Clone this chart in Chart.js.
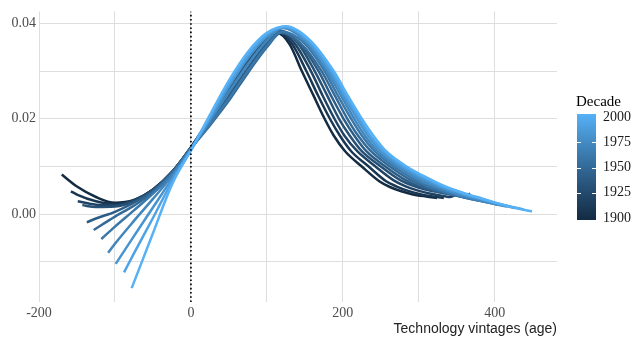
<!DOCTYPE html>
<html>
<head>
<meta charset="utf-8">
<script src="https://cdn.jsdelivr.net/npm/chart.js@4.4.1/dist/chart.umd.min.js"></script>
<style>
  html, body { margin: 0; padding: 0; background: #ffffff; }
  canvas { display: block; }
</style>
</head>
<body>
<canvas id="c" width="636" height="338"></canvas>
<script>
// Decades shown, one fitted curve each: [age, share]
const decades = [1900, 1910, 1920, 1930, 1940, 1950, 1960, 1970, 1980, 1990, 2000];

const d1900 = [[-170,.0083],[-150,.0058],[-125,.0036],[-100,.0024],[-75,.0030],[-50,.0052],[-25,.0088],[0,.0140],[25,.0200],[50,.0262],[75,.0322],[100,.0368],[113,.0380],[130,.0356],[146,.0300],[161,.0250],[176,.0200],[188,.0165],[203,.0132],[225,.0100],[249,.0068],[262,.0057],[277,.0048],[291,.0042],[310,.0037],[324,.0034]];
const d1910 = [[-158,.0048],[-150,.0041],[-125,.0027],[-100,.0021],[-75,.0029],[-50,.0051],[-25,.0088],[0,.0140],[25,.0200],[50,.0263],[75,.0323],[100,.0369],[114,.0382],[133,.0357],[152,.0300],[167,.0250],[183,.0200],[196,.0165],[211,.0132],[234,.0100],[257,.0069],[271,.0058],[286,.0049],[302,.0042],[320,.0037],[333,.0034]];
const d1920 = [[-149,.0027],[-125,.0020],[-100,.0019],[-75,.0029],[-50,.0051],[-25,.0088],[0,.0140],[25,.0198],[50,.0260],[75,.0320],[100,.0367],[115,.0384],[136,.0359],[158,.0300],[173,.0250],[189,.0200],[202,.0165],[219,.0132],[243,.0100],[267,.0071],[282,.0059],[298,.0050],[316,.0043],[336,.0037],[341,.0036],[347,.0039]];
const d1930 = [[-143,.0019],[-125,.0015],[-100,.0016],[-75,.0027],[-50,.0050],[-25,.0088],[0,.0139],[25,.0196],[50,.0256],[75,.0316],[100,.0364],[117,.0385],[140,.0360],[163,.0300],[179,.0250],[195,.0200],[209,.0165],[225,.0132],[250,.0100],[275,.0072],[292,.0060],[310,.0051],[330,.0045],[352,.0040],[362,.0039],[368,.0043]];
const d1940 = [[-137,-.0017],[-125,-.0009],[-100,.0005],[-75,.0024],[-50,.0049],[-25,.0087],[0,.0139],[25,.0192],[50,.0248],[75,.0306],[100,.0358],[118,.0383],[143,.0358],[168,.0300],[184,.0250],[201,.0200],[215,.0165],[231,.0132],[256,.0100],[281,.0073],[300,.0059],[320,.0049],[342,.0041],[362,.0035],[380,.0031]];
const d1950 = [[-128,-.0033],[-100,-.0005],[-75,.0018],[-50,.0046],[-25,.0086],[0,.0138],[25,.0186],[50,.0238],[75,.0296],[100,.0350],[119,.0380],[145,.0357],[172,.0300],[189,.0250],[206,.0200],[220,.0165],[237,.0132],[262,.0100],[288,.0073],[308,.0058],[330,.0047],[352,.0038],[372,.0031],[392,.0025]];
const d1960 = [[-118,-.0052],[-100,-.0026],[-75,.0008],[-50,.0043],[-25,.0084],[0,.0137],[25,.0188],[50,.0242],[75,.0300],[100,.0353],[120,.0383],[148,.0360],[176,.0300],[193,.0250],[211,.0200],[225,.0165],[242,.0132],[267,.0100],[293,.0074],[314,.0058],[336,.0046],[358,.0036],[380,.0028],[404,.0020]];
const d1970 = [[-109,-.0081],[-100,-.0062],[-75,-.0014],[-50,.0032],[-25,.0080],[0,.0136],[25,.0195],[50,.0256],[75,.0315],[100,.0364],[121,.0390],[150,.0363],[179,.0300],[197,.0250],[215,.0200],[229,.0165],[246,.0132],[272,.0100],[298,.0075],[320,.0059],[342,.0046],[365,.0035],[390,.0025],[416,.0016]];
const d1980 = [[-99,-.0104],[-75,-.0046],[-50,.0014],[-25,.0074],[0,.0135],[25,.0200],[50,.0267],[75,.0327],[100,.0372],[122,.0391],[152,.0364],[182,.0300],[200,.0250],[219,.0200],[233,.0165],[250,.0132],[276,.0100],[302,.0076],[325,.0059],[350,.0045],[375,.0034],[400,.0023],[427,.0013]];
const d1990 = [[-88,-.0122],[-75,-.0082],[-50,-.0008],[-25,.0068],[0,.0134],[25,.0204],[50,.0274],[75,.0334],[100,.0377],[124,.0393],[154,.0365],[185,.0300],[203,.0250],[222,.0200],[236,.0165],[254,.0132],[280,.0100],[306,.0077],[330,.0059],[355,.0045],[380,.0033],[408,.0021],[438,.0010]];
const d2000 = [[-78,-.0155],[-50,-.0040],[-25,.0062],[0,.0134],[25,.0208],[50,.0280],[75,.0340],[100,.0380],[125,.0394],[156,.0366],[188,.0300],[206,.0250],[225,.0200],[240,.0165],[257,.0132],[284,.0100],[310,.0077],[335,.0058],[360,.0044],[385,.0032],[410,.0020],[430,.0012],[449,.0006]];

// Axis ticks and labels
const xTicks = [-200, -100, 0, 100, 200, 300, 400];
const xLabelled = [-200, 0, 200, 400];
const yTicks = [-0.01, 0, 0.01, 0.02, 0.03, 0.04];
const yLabelled = [0, 0.02, 0.04];
const legendBreaks = [1900, 1925, 1950, 1975, 2000];
const refAge = 0;

const X_MIN = -200, X_MAX = 482;
const Y_MIN = -0.0184, Y_MAX = 0.0425;

// Continuous colour scale: dark navy -> light blue, interpolated in CIE Lab
const LOW = '#132B43', HIGH = '#56B1F7';
const WHITE = [0.95047, 1, 1.08883];
function hexToRgb(h) { return [1, 3, 5].map(i => parseInt(h.slice(i, i + 2), 16)); }
function toLin(c) { c /= 255; return c <= 0.04045 ? c / 12.92 : Math.pow((c + 0.055) / 1.055, 2.4); }
function fromLin(c) {
  const v = c <= 0.0031308 ? 12.92 * c : 1.055 * Math.pow(c, 1 / 2.4) - 0.055;
  return Math.round(Math.max(0, Math.min(1, v)) * 255);
}
function rgbToLab(rgb) {
  const [r, g, b] = rgb.map(toLin);
  const X = 0.4124564 * r + 0.3575761 * g + 0.1804375 * b;
  const Y = 0.2126729 * r + 0.7151522 * g + 0.0721750 * b;
  const Z = 0.0193339 * r + 0.1191920 * g + 0.9503041 * b;
  const f = t => t > 0.008856 ? Math.cbrt(t) : 7.787 * t + 16 / 116;
  const fx = f(X / WHITE[0]), fy = f(Y / WHITE[1]), fz = f(Z / WHITE[2]);
  return [116 * fy - 16, 500 * (fx - fy), 200 * (fy - fz)];
}
function labToRgb(lab) {
  const fy = (lab[0] + 16) / 116, fx = fy + lab[1] / 500, fz = fy - lab[2] / 200;
  const inv = t => (t * t * t > 0.008856) ? t * t * t : (t - 16 / 116) / 7.787;
  const X = inv(fx) * WHITE[0], Y = inv(fy) * WHITE[1], Z = inv(fz) * WHITE[2];
  const r = 3.2404542 * X - 1.5371385 * Y - 0.4985314 * Z;
  const g = -0.9692660 * X + 1.8760108 * Y + 0.0415560 * Z;
  const b = 0.0556434 * X - 0.2040259 * Y + 1.0572252 * Z;
  return [r, g, b].map(fromLin);
}
const labLow = rgbToLab(hexToRgb(LOW)), labHigh = rgbToLab(hexToRgb(HIGH));
function rampColour(t) {
  const lab = labLow.map((v, k) => v + (labHigh[k] - v) * t);
  const [r, g, b] = labToRgb(lab);
  return `rgb(${r},${g},${b})`;
}
const dMin = Math.min(...decades), dMax = Math.max(...decades);
const decadeColour = d => rampColour((d - dMin) / (dMax - dMin));

const curves = [d1900, d1910, d1920, d1930, d1940, d1950, d1960, d1970, d1980, d1990, d2000];

const datasets = curves.map((pts, i) => ({
  label: String(decades[i]),
  data: pts.map(([x, y]) => ({ x, y })),
  borderColor: decadeColour(decades[i]),
  borderWidth: 2.5,
  pointRadius: 0,
  fill: false,
  cubicInterpolationMode: 'monotone',
  order: decades.length - i
}));

// Dotted reference line at age zero
datasets.push({
  label: 'age 0',
  data: [{ x: refAge, y: Y_MIN }, { x: refAge, y: Y_MAX }],
  borderColor: '#000000',
  borderWidth: 1.7,
  borderDash: [1.6, 2.6],
  pointRadius: 0,
  fill: false,
  order: -1
});

// Colour bar legend for the decade scale
const colourBar = {
  id: 'colourBar',
  afterDraw(chart) {
    const ctx = chart.ctx;
    const x0 = 577, w = 19, yTop = 114, yBot = 220;
    const yHi = 117, yLo = 218;
    const pos = d => yLo + (yHi - yLo) * (d - dMin) / (dMax - dMin);
    ctx.save();
    const grad = ctx.createLinearGradient(0, yBot, 0, yTop);
    for (let k = 0; k <= 20; k++) grad.addColorStop(k / 20, rampColour(k / 20));
    ctx.fillStyle = grad;
    ctx.fillRect(x0, yTop, w, yBot - yTop);
    ctx.strokeStyle = '#ffffff';
    ctx.lineWidth = 1;
    legendBreaks.forEach(d => {
      if (d === dMin || d === dMax) return;
      const y = Math.round(pos(d)) + 0.5;
      ctx.beginPath();
      ctx.moveTo(x0, y); ctx.lineTo(x0 + 4, y);
      ctx.moveTo(x0 + w - 4, y); ctx.lineTo(x0 + w, y);
      ctx.stroke();
    });
    ctx.fillStyle = '#1a1a1a';
    ctx.font = '14px "Liberation Serif"';
    ctx.textAlign = 'left';
    ctx.textBaseline = 'middle';
    legendBreaks.forEach(d => ctx.fillText(String(d), 603, pos(d)));
    ctx.fillStyle = '#000000';
    ctx.font = '15px "Liberation Serif"';
    ctx.fillText('Decade', 576, 102);
    ctx.restore();
  }
};

new Chart(document.getElementById('c'), {
  type: 'line',
  data: { datasets },
  plugins: [colourBar],
  options: {
    responsive: false,
    animation: false,
    events: [],
    layout: { padding: { left: 0, top: 8, right: 79, bottom: 0 } },
    plugins: { legend: { display: false }, tooltip: { enabled: false } },
    scales: {
      x: {
        type: 'linear',
        min: X_MIN,
        max: X_MAX,
        afterBuildTicks: s => { s.ticks = xTicks.map(v => ({ value: v })); },
        afterFit: s => { s.height = 36; },
        border: { display: false },
        grid: { color: '#dedede', lineWidth: 1, drawTicks: false },
        ticks: {
          padding: 3,
          autoSkip: false,
          maxRotation: 0,
          color: '#4d4d4d',
          font: { family: 'Liberation Serif', size: 14 },
          callback: v => xLabelled.includes(v) ? String(v) : ''
        },
        title: {
          display: true,
          text: 'Technology vintages (age)',
          align: 'end',
          color: '#222222',
          font: { family: 'Liberation Sans', size: 14 },
          padding: { top: 0, bottom: 0 }
        }
      },
      y: {
        type: 'linear',
        min: Y_MIN,
        max: Y_MAX,
        afterBuildTicks: s => { s.ticks = yTicks.map(v => ({ value: v })); },
        afterFit: s => { s.width = 39; },
        border: { display: false },
        grid: { color: '#dedede', lineWidth: 1, drawTicks: false },
        ticks: {
          padding: 3,
          autoSkip: false,
          color: '#4d4d4d',
          font: { family: 'Liberation Serif', size: 14 },
          callback: v => yLabelled.some(t => Math.abs(t - v) < 1e-9) ? v.toFixed(2) : ''
        }
      }
    }
  }
});
</script>
</body>
</html>
